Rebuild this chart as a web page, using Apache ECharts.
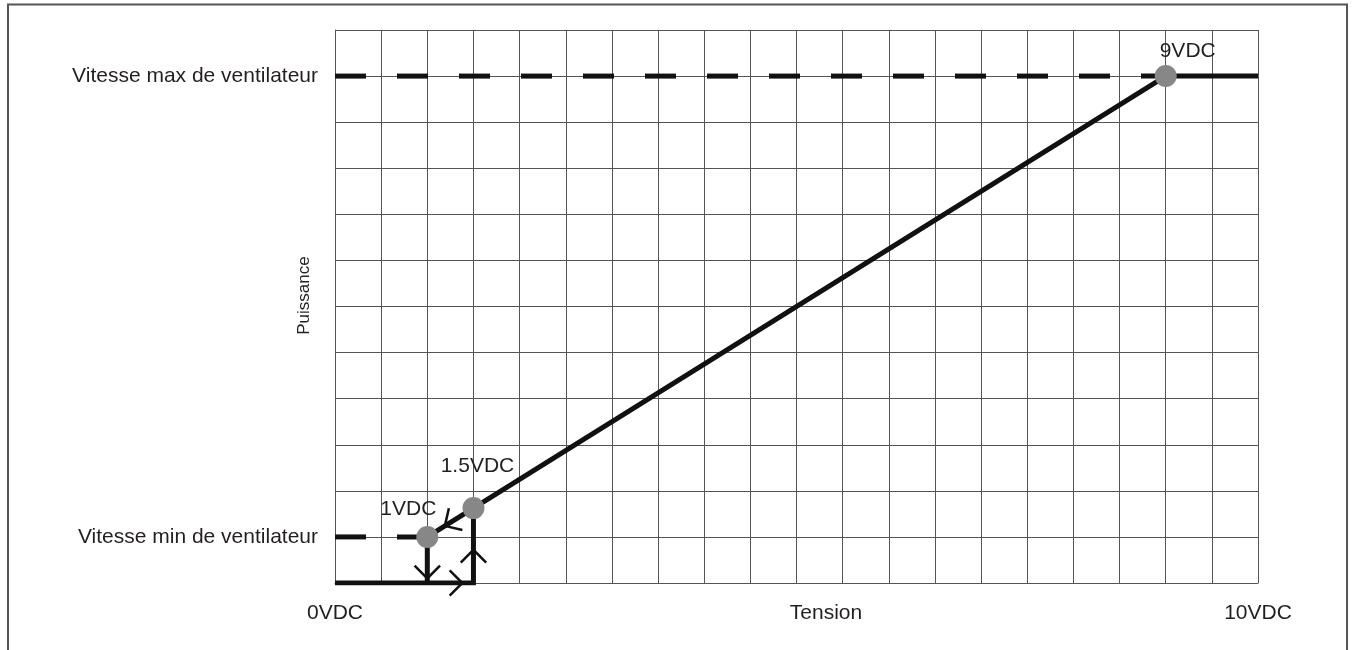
<!DOCTYPE html>
<html><head><meta charset="utf-8">
<script src="https://cdn.jsdelivr.net/npm/echarts@6/dist/echarts.min.js"></script>
<style>html,body{margin:0;padding:0;background:#fff}#c{width:1356px;height:650px}</style>
</head><body><div id="c"></div>
<script>
// ---- data ----
const xTickLabels = { 0: '0VDC', 10: '10VDC' };
const yTickLabels = { 1: 'Vitesse min de ventilateur', 11: 'Vitesse max de ventilateur' };
const xAxisName = 'Tension';
const yAxisName = 'Puissance';
const pointX = [1, 1.5, 9];
const pointY = [1, 1.625, 11];
const pointLabels = ['1VDC', '1.5VDC', '9VDC'];
const maxLevel = 11;
const minLevel = 1;
const maxDashedX = [0, 9];
const maxSolidX = [9, 10];
const minDashedX = [0, 1];
const dropX = [1, 1];
const dropY = [1, 0];
const baseX = [0, 1.5, 1.5];
const baseY = [0, 0, 1.625];
// arrows: [x, y, dirX, dirY]
const arrows = [
  [1, 0.1, 0, -1],
  [1.38, 0, 1, 0],
  [1.5, 0.72, 0, 1],
  [1.19, 1.24, -1, -1.25]
];

// ---- chart ----
const FONT = '"Liberation Sans", Arial, sans-serif';
const FS = 21;
const TXT = '#231f20';
const zip = (xs, ys) => xs.map((x, i) => [x, ys[i]]);
const labelOffsets = [[-19, -28], [4, -42], [22, -25]];

const chart = echarts.init(document.getElementById('c'), null, { renderer: 'canvas' });
const lineBase = { type: 'line', showSymbol: false, symbol: 'none', silent: true, animation: false };

chart.setOption({
  animation: false,
  grid: { left: 335, right: 98, top: 30, bottom: 67, containLabel: false, outerBoundsMode: 'none' },
  graphic: [{
    type: 'rect', shape: { x: 8, y: 4.5, width: 1339, height: 700 },
    style: { fill: 'none', stroke: '#555', lineWidth: 2 }, silent: true
  }],
  xAxis: {
    type: 'value', min: 0, max: 10, interval: 0.5,
    name: xAxisName, nameLocation: 'middle', nameGap: 20, nameMoveOverlap: false,
    nameTextStyle: { color: TXT, fontFamily: FONT, fontSize: FS, padding: [0, 0, 0, 59] },
    axisLine: { show: true, lineStyle: { color: '#555', width: 1 } },
    axisTick: { show: false },
    splitLine: { show: true, lineStyle: { color: '#555', width: 1 } },
    axisLabel: {
      color: TXT, fontFamily: FONT, fontSize: FS, margin: 20,
      formatter: v => xTickLabels[v] || '', showMinLabel: true, showMaxLabel: true
    }
  },
  yAxis: {
    type: 'value', min: 0, max: 12, interval: 1,
    name: yAxisName, nameLocation: 'middle', nameGap: 22, nameMoveOverlap: false,
    nameTextStyle: { color: TXT, fontFamily: FONT, fontSize: 17, padding: [0, 0, 0, 22] },
    axisLine: { show: true, lineStyle: { color: '#555', width: 1 } },
    axisTick: { show: false },
    splitLine: { show: true, lineStyle: { color: '#555', width: 1 } },
    axisLabel: {
      color: TXT, fontFamily: FONT, fontSize: FS, margin: 17,
      formatter: v => yTickLabels[v] || ''
    }
  },
  series: [
    Object.assign({}, lineBase, {
      name: 'max dashed', data: maxDashedX.map(x => [x, maxLevel]),
      lineStyle: { color: '#111', width: 5, type: [31, 31], cap: 'butt' }
    }),
    Object.assign({}, lineBase, {
      name: 'max solid', data: maxSolidX.map(x => [x, maxLevel]),
      lineStyle: { color: '#111', width: 5 }
    }),
    Object.assign({}, lineBase, {
      name: 'min dashed', data: minDashedX.map(x => [x, minLevel]),
      lineStyle: { color: '#111', width: 5, type: [31, 31], cap: 'butt' }
    }),
    Object.assign({}, lineBase, {
      name: 'ramp', data: zip(pointX, pointY),
      lineStyle: { color: '#111', width: 5 }
    }),
    Object.assign({}, lineBase, {
      name: 'drop', data: zip(dropX, dropY),
      lineStyle: { color: '#111', width: 5 }
    }),
    Object.assign({}, lineBase, {
      name: 'base', data: zip(baseX, baseY),
      lineStyle: { color: '#111', width: 5, join: 'miter' }
    }),
    {
      type: 'custom', name: 'arrows', silent: true, animation: false,
      data: arrows, encode: { x: 0, y: 1 }, z: 3,
      renderItem: function (params, api) {
        const x = api.value(0), y = api.value(1), dx = api.value(2), dy = api.value(3);
        const p = api.coord([x, y]);
        const q = api.coord([x + dx * 0.01, y + dy * 0.01]);
        let vx = q[0] - p[0], vy = q[1] - p[1];
        const n = Math.hypot(vx, vy); vx /= n; vy /= n;
        const bx = -vx, by = -vy, L = 18, a = Math.PI / 4;
        const rot = t => [bx * Math.cos(t) - by * Math.sin(t), bx * Math.sin(t) + by * Math.cos(t)];
        const r1 = rot(a), r2 = rot(-a);
        return {
          type: 'polyline',
          shape: { points: [[p[0] + r1[0] * L, p[1] + r1[1] * L], p, [p[0] + r2[0] * L, p[1] + r2[1] * L]] },
          style: { stroke: '#111', lineWidth: 2.5, fill: null, lineJoin: 'miter' }
        };
      }
    },
    {
      type: 'scatter', name: 'points', silent: true, animation: false, z: 5,
      symbol: 'circle', symbolSize: 22,
      itemStyle: { color: '#878787', opacity: 1 },
      data: pointX.map((x, i) => ({
        value: [x, pointY[i]], name: pointLabels[i],
        label: { show: true, position: 'inside', offset: labelOffsets[i], formatter: pointLabels[i],
          color: TXT, opacity: 1, fontFamily: FONT, fontSize: FS }
      }))
    }
  ]
});
</script>
</body></html>
